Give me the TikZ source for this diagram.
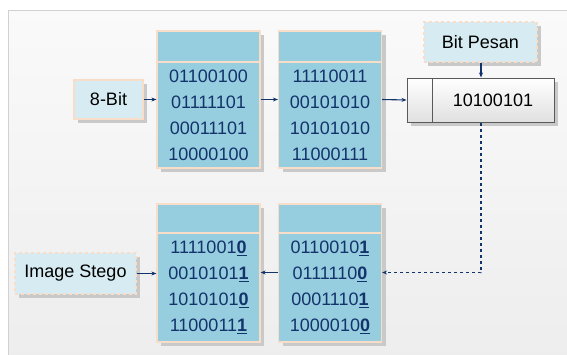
\documentclass[tikz,border=0pt]{standalone}
\usepackage{fontspec}
\setmainfont{Liberation Sans}
\usetikzlibrary{shadows,arrows.meta}
\definecolor{navy}{HTML}{13336B}
\definecolor{peach}{HTML}{F8DEC8}
\definecolor{cellblue}{HTML}{97CEDF}
\definecolor{lightblue}{HTML}{D6EBF2}
\definecolor{shade}{HTML}{C9C9C9}
\newcommand\ub[1]{\underline{\textbf{#1}}}
\tikzset{
  sh/.style={drop shadow={shadow xshift=4pt,shadow yshift=-4pt,fill=shade,opacity=1}},
  head/.style={draw=peach,line width=1.2pt,fill=cellblue,minimum width=103pt,inner sep=0pt,sh},
  bits/.style={head,text=navy,align=center,font=\fontsize{18}{26}\selectfont},
  lbl/.style={draw=peach,line width=1.2pt,fill=lightblue,inner sep=0pt,font=\fontsize{18}{22}\selectfont,sh},
  reg/.style={draw=black!65,line width=1pt,top color=white,bottom color=black!12,inner sep=0pt,minimum height=44pt,font=\fontsize{18}{22}\selectfont,sh},
  conn/.style={navy,line width=1.1pt,-{Stealth[length=5pt,width=4pt]}}
}
\begin{document}
\begin{tikzpicture}[x=1pt,y=-1pt]
\useasboundingbox (0,0) rectangle (567,354);
% panel
\fill[top color=black!2,bottom color=black!7] (8,10) rectangle (575,360);
\draw[black!18,line width=1pt] (8,360) -- (8,10) -- (575,10);

% top row
\node[lbl,minimum width=69pt,minimum height=39pt] (bit8) at (108.5,99.5) {8-Bit};
\node[head,minimum height=31pt] (h1) at (208.5,46.5) {};
\node[bits,minimum height=106pt] (b1) at (208.5,115) {01100100\\01111101\\00011101\\10000100};
\node[head,minimum height=31pt] (h2) at (330,46.5) {};
\node[bits,minimum height=106pt] (b2) at (330,115) {11110011\\00101010\\10101010\\11000111};
\node[lbl,dashed,fill=lightblue,minimum width=113pt,minimum height=40pt] (pesan) at (480.5,42) {Bit Pesan};
\node[reg,minimum width=25pt] (regA) at (419.5,100) {};
\node[reg,minimum width=122pt] (regB) at (493,100) {10100101};

% bottom row
\node[head,minimum height=29pt] (h3) at (208.5,218.5) {};
\node[bits,minimum height=109pt] (b3) at (208.5,287.5) {1111001\ub{0}\\0010101\ub{1}\\1010101\ub{0}\\1100011\ub{1}};
\node[head,minimum height=29pt] (h4) at (330,218.5) {};
\node[bits,minimum height=109pt] (b4) at (330,287.5) {0110010\ub{1}\\0111110\ub{0}\\0001110\ub{1}\\1000010\ub{0}};
\node[lbl,dashed,minimum width=121pt,minimum height=41pt] (stego) at (75.5,273.5) {Image Stego};

\coordinate (turn) at (481,272.5);
\draw[conn] (bit8.east) -- (bit8.east -| b1.west);
\draw[conn] (bit8.east -| b1.east) -- (bit8.east -| b2.west);
\draw[conn] (bit8.east -| b2.east) -- (regA.west);
\draw[conn] (pesan.south -| turn) -- (regB.north -| turn);
\draw[conn,dashed] (regB.south -| turn) -- (turn) -- (turn -| b4.east);
\draw[conn] (turn -| b4.west) -- (turn -| b3.east);
\draw[conn] (stego.east) -- (stego.east -| b3.west);
\end{tikzpicture}
\end{document}
